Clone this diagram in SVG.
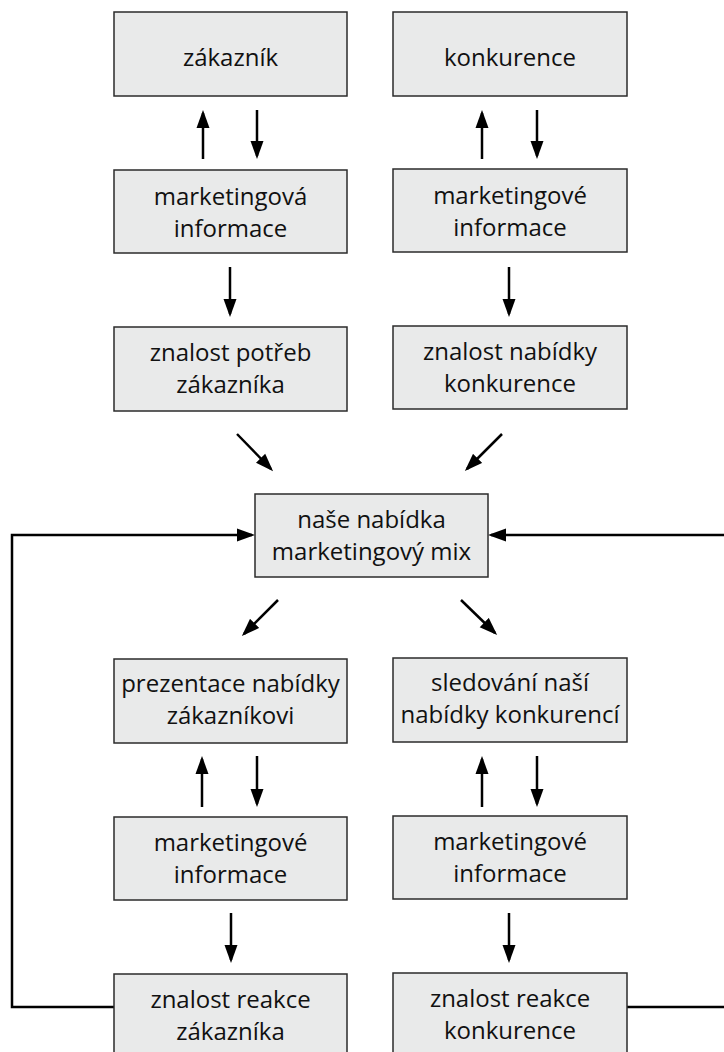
<svg xmlns="http://www.w3.org/2000/svg" width="724" height="1052" viewBox="0 0 724 1052">
<style>
.box{fill:#e9eaea;stroke:#2b2b2b;stroke-width:1.5}
.t{font-family:"Open Sans","Noto Sans",sans-serif;font-size:24px;fill:#111;text-anchor:middle}
.c{fill:none;stroke:#000;stroke-width:2.5}
.a{marker-end:url(#ah)}
</style>
<defs>
<marker id="ah" markerUnits="userSpaceOnUse" markerWidth="18" markerHeight="14" refX="15" refY="6.5" orient="auto" viewBox="0 0 18 13">
<path d="M0,0 L18,6.5 L0,13 z" fill="#000"/>
</marker>
</defs>
<rect width="724" height="1052" fill="#fff"/>
<g id="connectors">
<line class="c a" x1="203" y1="159" x2="203" y2="113"/>
<line class="c a" x1="257" y1="110" x2="257" y2="156"/>
<line class="c a" x1="482" y1="159" x2="482" y2="113"/>
<line class="c a" x1="537" y1="110" x2="537" y2="156"/>
<line class="c a" x1="230" y1="267" x2="230" y2="314"/>
<line class="c a" x1="509" y1="267" x2="509" y2="314"/>
<line class="c a" x1="237" y1="434" x2="271" y2="469"/>
<line class="c a" x1="502" y1="434" x2="467" y2="469"/>
<line class="c a" x1="278" y1="600" x2="244" y2="634"/>
<line class="c a" x1="461" y1="600" x2="495" y2="633"/>
<line class="c a" x1="202" y1="807" x2="202" y2="759"/>
<line class="c a" x1="257" y1="756" x2="257" y2="804"/>
<line class="c a" x1="482" y1="807" x2="482" y2="759"/>
<line class="c a" x1="537" y1="756" x2="537" y2="804"/>
<line class="c a" x1="231" y1="913" x2="231" y2="960"/>
<line class="c a" x1="509" y1="913" x2="509" y2="960"/>
<path class="c a" d="M114,1007 H12 V535 H252"/>
<path class="c a" d="M627,1007 H727 V535 H491"/>
</g>
<g id="n1"><rect class="box" x="114" y="12" width="233" height="84"/><text class="t" x="230.5" y="66">zákazník</text></g>
<g id="n2"><rect class="box" x="393" y="12" width="234" height="84"/><text class="t" x="510" y="66">konkurence</text></g>
<g id="n3"><rect class="box" x="114" y="170" width="233" height="83"/><text class="t" x="230.5" y="205">marketingová</text><text class="t" x="230.5" y="237">informace</text></g>
<g id="n4"><rect class="box" x="393" y="169" width="234" height="83"/><text class="t" x="510" y="204">marketingové</text><text class="t" x="510" y="236">informace</text></g>
<g id="n5"><rect class="box" x="114" y="327" width="233" height="84"/><text class="t" x="230.5" y="361">znalost potřeb</text><text class="t" x="230.5" y="393">zákazníka</text></g>
<g id="n6"><rect class="box" x="393" y="326" width="234" height="83"/><text class="t" x="510" y="360">znalost nabídky</text><text class="t" x="510" y="392">konkurence</text></g>
<g id="n7"><rect class="box" x="255" y="494" width="233" height="83"/><text class="t" x="371.5" y="528">naše nabídka</text><text class="t" x="371.5" y="560">marketingový mix</text></g>
<g id="n8"><rect class="box" x="114" y="659" width="233" height="84"/><text class="t" x="230.5" y="692">prezentace nabídky</text><text class="t" x="230.5" y="724">zákazníkovi</text></g>
<g id="n9"><rect class="box" x="393" y="658" width="234" height="84"/><text class="t" x="510" y="691">sledování naší</text><text class="t" x="510" y="723">nabídky konkurencí</text></g>
<g id="n10"><rect class="box" x="114" y="817" width="233" height="83"/><text class="t" x="230.5" y="851">marketingové</text><text class="t" x="230.5" y="883">informace</text></g>
<g id="n11"><rect class="box" x="393" y="816" width="234" height="83"/><text class="t" x="510" y="850">marketingové</text><text class="t" x="510" y="882">informace</text></g>
<g id="n12"><rect class="box" x="114" y="974" width="233" height="90"/><text class="t" x="230.5" y="1008">znalost reakce</text><text class="t" x="230.5" y="1040">zákazníka</text></g>
<g id="n13"><rect class="box" x="393" y="973" width="234" height="91"/><text class="t" x="510" y="1007">znalost reakce</text><text class="t" x="510" y="1039">konkurence</text></g>
</svg>
